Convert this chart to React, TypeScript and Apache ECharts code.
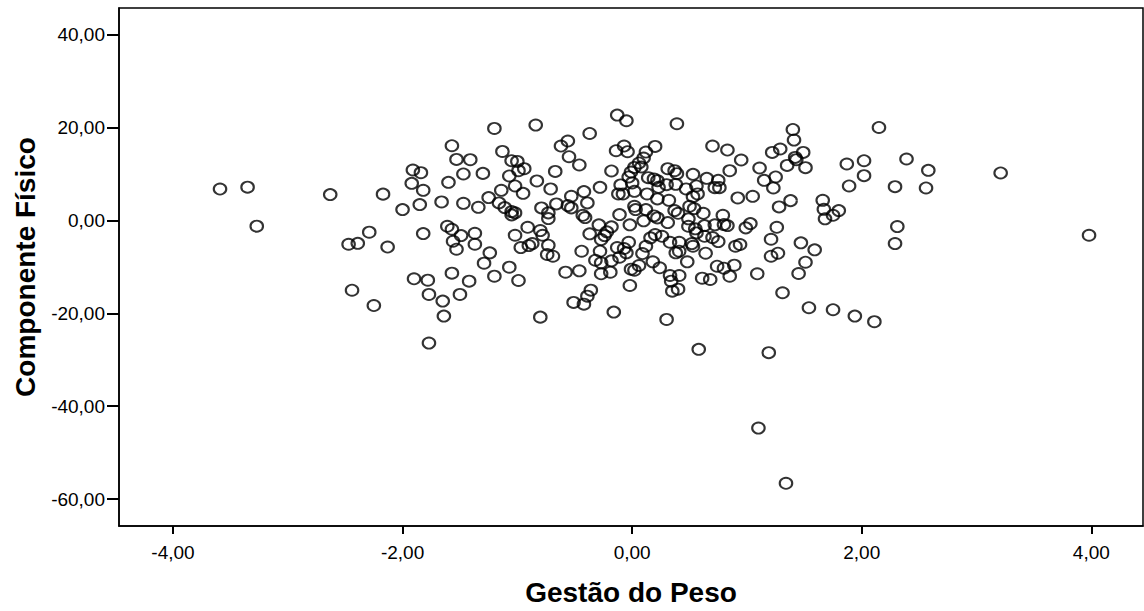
import { useEffect, useRef } from "react";
import * as echarts from "echarts";

// Axis tick positions
const xTicks = [-4, -2, 0, 2, 4];
const yTicks = [-60, -40, -20, 0, 20, 40];

// Each pair: [Gestão do Peso, Componente Físico]
const pontosEsquerda: [number, number][] = [
  [-3.59, 6.8], [-3.35, 7.2], [-3.27, -1.2], [-2.63, 5.6], [-2.17, 5.7], [-2.29, -2.5],
  [-2.47, -5.1], [-2.39, -4.9], [-2.13, -5.7], [-2.44, -15.0], [-2.25, -18.3],
];

const pontosNegativos: [number, number][] = [
  [-1.2, 19.85], [-0.84, 20.58], [-1.57, 16.13], [-1.13, 14.9], [-1.53, 13.18], [-1.41, 13.12],
  [-1.05, 12.9], [-1.0, 12.75], [-1.91, 10.9], [-1.84, 10.32], [-0.94, 11.18], [-0.99, 10.75],
  [-1.47, 10.04], [-1.3, 10.17], [-1.07, 9.61], [-1.92, 8.02], [-1.6, 8.24], [-0.83, 8.54],
  [-1.02, 7.46], [-1.82, 6.52], [-1.14, 6.52], [-0.95, 5.87], [-1.25, 4.95], [-2.0, 2.37],
  [-1.85, 3.44], [-1.66, 4.02], [-1.47, 3.72], [-1.34, 2.86], [-1.16, 3.81], [-1.11, 2.8],
  [-1.05, 1.94], [-1.02, 1.66], [-1.05, 1.23], [-0.79, 2.73], [-1.61, -1.23], [-1.57, -1.87],
  [-1.49, -3.23], [-1.56, -4.45], [-1.53, -6.17], [-1.37, -2.73], [-1.37, -5.1], [-1.82, -2.8],
  [-0.91, -1.44], [-1.02, -3.16], [-0.97, -5.81], [-0.9, -5.38], [-0.87, -4.95], [-0.8, -2.15],
  [-1.24, -6.95], [-1.29, -9.18], [-1.07, -10.04], [-1.2, -11.98], [-0.99, -12.9], [-1.9, -12.54],
  [-1.78, -12.84], [-1.57, -11.33], [-1.42, -13.05], [-1.77, -15.91], [-1.65, -17.35], [-1.5, -15.91],
  [-1.64, -20.58], [-1.77, -26.39], [-0.8, -20.8],
];

const pontosCentro: [number, number][] = [
  [-0.13, 22.73], [-0.05, 21.51], [-0.37, 18.77], [-0.56, 17.14], [-0.62, 16.06], [-0.55, 13.76],
  [-0.46, 11.98], [-0.14, 15.05], [-0.07, 16.06], [-0.04, 14.84], [0.2, 15.98], [0.12, 14.77],
  [0.1, 13.48], [0.06, 12.41], [0.02, 11.46], [-0.01, 10.47], [-0.03, 9.4], [0.08, 11.55],
  [-0.67, 10.6], [-0.18, 10.69], [-0.71, 6.82], [-0.28, 7.16], [-0.42, 6.24], [-0.53, 5.23],
  [-0.39, 3.81], [-0.66, 3.59], [-0.56, 3.23], [-0.53, 2.73], [-0.73, 1.66], [-0.73, 0.43],
  [-0.43, 1.14], [-0.41, 0.65], [-0.1, 7.68], [-0.12, 5.74], [-0.08, 5.74], [0.02, 6.3],
  [0.0, 8.11], [0.14, 9.25], [0.19, 8.97], [0.22, 8.6], [0.23, 7.16], [0.13, 5.74],
  [0.22, 4.67], [0.02, 3.08], [0.03, 2.37], [0.12, 2.37], [0.19, 1.01], [0.22, 0.58],
  [-0.11, 1.29], [-0.02, -0.92], [0.1, -0.06], [-0.29, -0.92], [-0.18, -1.35], [-0.22, -2.43],
  [-0.24, -3.23], [-0.37, -2.86], [-0.27, -4.09], [-0.78, -3.16], [-0.73, -5.31], [-0.74, -7.31],
  [-0.69, -7.68], [-0.03, -4.67], [-0.13, -5.81], [-0.07, -6.02], [-0.05, -6.95], [-0.11, -7.89],
  [-0.44, -6.6], [-0.28, -6.6], [-0.32, -8.54], [-0.27, -9.1], [-0.18, -8.67], [-0.19, -11.12],
  [-0.27, -11.46], [-0.58, -11.12], [-0.46, -10.82], [-0.01, -10.47], [0.02, -10.69], [0.06, -9.68],
  [0.09, -7.1], [0.12, -5.53], [0.16, -3.72], [0.2, -3.01], [0.18, -8.88], [0.24, -10.17],
  [-0.02, -13.98], [-0.36, -14.99], [-0.39, -16.28], [-0.42, -18.0], [-0.51, -17.63], [-0.16, -19.72],
  [0.3, -21.3],
];

const pontosPositivos: [number, number][] = [
  [0.39, 20.86], [0.7, 16.06], [0.83, 15.2], [0.95, 13.05], [0.85, 10.75], [1.11, 11.33],
  [1.22, 14.69], [1.29, 15.42], [1.15, 8.67], [1.25, 9.4], [1.23, 7.03], [0.92, 4.88],
  [1.05, 5.23], [1.28, 2.95], [0.31, 11.18], [0.37, 10.75], [0.39, 10.11], [0.53, 9.96],
  [0.65, 9.1], [0.75, 8.67], [0.72, 7.1], [0.76, 7.1], [0.3, 7.74], [0.38, 7.81],
  [0.47, 6.82], [0.56, 7.46], [0.57, 5.74], [0.53, 5.16], [0.32, 4.37], [0.5, 3.08],
  [0.54, 2.58], [0.37, 2.15], [0.4, 1.57], [0.62, 1.57], [0.31, -0.43], [0.49, 0.37],
  [0.79, 1.14], [0.49, -1.23], [0.55, -1.78], [0.56, -2.65], [0.63, -1.08], [0.72, -0.92],
  [0.8, -0.86], [0.83, -1.08], [0.99, -1.57], [1.03, -0.65], [1.26, -1.44], [0.26, -3.38],
  [0.33, -4.67], [0.41, -4.67], [0.52, -4.95], [0.53, -5.53], [0.63, -3.38], [0.7, -3.66],
  [0.75, -4.52], [0.9, -5.53], [0.94, -5.16], [1.21, -4.02], [0.38, -6.95], [0.41, -6.6],
  [0.48, -8.88], [0.64, -7.03], [0.33, -11.83], [0.41, -11.83], [0.34, -13.05], [0.35, -15.2],
  [0.4, -14.77], [0.61, -12.41], [0.68, -12.69], [0.74, -9.83], [0.8, -10.26], [0.85, -11.98],
  [0.89, -9.61], [1.09, -11.46], [1.21, -7.68], [1.27, -7.03], [1.31, -15.55], [0.58, -27.74],
  [1.19, -28.45],
];

const pontosDireita: [number, number][] = [
  [1.4, 19.63], [2.15, 20.06], [1.41, 17.35], [1.49, 14.69], [1.42, 13.61], [1.43, 13.12],
  [1.35, 11.89], [1.51, 11.4], [1.87, 12.19], [2.02, 12.9], [2.39, 13.27], [2.58, 10.82],
  [2.02, 9.68], [1.89, 7.46], [2.29, 7.31], [2.56, 7.03], [1.38, 4.3], [1.66, 4.37],
  [1.67, 2.43], [1.68, 0.37], [1.75, 1.14], [1.8, 2.15], [2.31, -1.29], [2.29, -4.95],
  [1.47, -4.8], [1.59, -6.3], [1.51, -8.97], [1.45, -11.4], [1.54, -18.77], [1.75, -19.2],
  [1.94, -20.58], [2.11, -21.78], [3.21, 10.26], [3.98, -3.16], [1.1, -44.7], [1.34, -56.6],
];

const FONT = "'Liberation Sans', Arial, sans-serif";
const formatar = (v: number) => v.toFixed(2).replace(".", ",");

export default function App() {
  const ref = useRef<HTMLDivElement>(null);

  useEffect(() => {
    if (!ref.current) return;
    const chart = echarts.init(ref.current, null, { renderer: "svg" });
    const dados = [
      ...pontosEsquerda,
      ...pontosNegativos,
      ...pontosCentro,
      ...pontosPositivos,
      ...pontosDireita,
    ];
    chart.setOption({
      animation: false,
      backgroundColor: "#ffffff",
      grid: {
        left: 119,
        right: 1,
        top: 8,
        bottom: 84,
        show: true,
        borderColor: "#000",
        borderWidth: 1.5,
        backgroundColor: "transparent",
      },
      xAxis: {
        type: "value",
        min: -4.47,
        max: 4.45,
        name: "Gestão do Peso",
        nameLocation: "middle",
        nameGap: 52,
        nameTextStyle: { fontFamily: FONT, fontWeight: "bold", fontSize: 28, color: "#000" },
        axisLine: { show: true, onZero: false, lineStyle: { color: "#000", width: 1.5 } },
        axisTick: { show: true, length: 8, customValues: xTicks, lineStyle: { color: "#000", width: 2 } },
        axisLabel: {
          customValues: xTicks,
          formatter: formatar,
          fontFamily: FONT,
          fontSize: 19,
          color: "#000",
          margin: 17,
        },
        splitLine: { show: false },
      },
      yAxis: {
        type: "value",
        min: -65.8,
        max: 45.8,
        name: "Componente Físico",
        nameLocation: "middle",
        nameGap: 80,
        nameRotate: 90,
        nameTextStyle: { fontFamily: FONT, fontWeight: "bold", fontSize: 28, color: "#000" },
        axisLine: { show: true, onZero: false, lineStyle: { color: "#000", width: 1.5 } },
        axisTick: { show: true, length: 12, customValues: yTicks, lineStyle: { color: "#000", width: 2 } },
        axisLabel: {
          customValues: yTicks,
          formatter: formatar,
          fontFamily: FONT,
          fontSize: 19,
          color: "#000",
          margin: 14,
        },
        splitLine: { show: false },
      },
      series: [
        {
          type: "scatter",
          data: dados,
          symbol: "circle",
          symbolSize: [12.5, 11],
          itemStyle: { color: "rgba(0,0,0,0)", borderColor: "#000", borderWidth: 2 },
        },
      ],
    });
    return () => chart.dispose();
  }, []);

  return (
    <div
      ref={ref}
      style={{ position: "fixed", left: 0, top: 0, width: 1144, height: 611, background: "#fff" }}
    />
  );
}
